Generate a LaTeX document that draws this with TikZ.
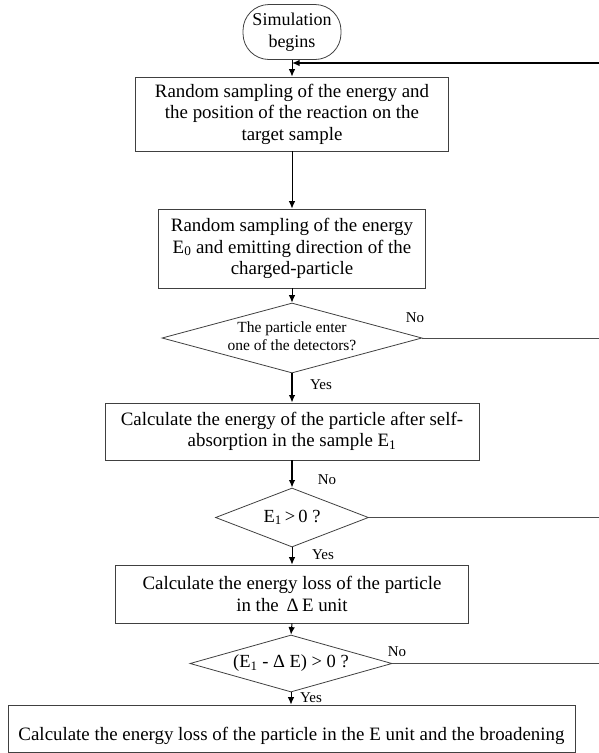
\documentclass[tikz,border=0pt]{standalone}
\usepackage{fontspec}
\setmainfont{Liberation Serif}
\usetikzlibrary{shapes.geometric,arrows.meta}
\newcommand{\sbs}[1]{\textsubscript{#1}}
\begin{document}
\begin{tikzpicture}[x=1pt,y=-1pt,
  box/.style={draw=black!75, line width=0.8pt, fill=white, align=center, inner sep=0pt,
    font=\fontsize{18.9}{21.5}\selectfont},
  dec/.style={draw=black!75, line width=0.8pt, shape=diamond, inner sep=0pt, align=center},
  arr/.style={line width=1pt, -{Latex[length=7.5pt,width=6.5pt]}},
  lbl/.style={font=\fontsize{15}{17}\selectfont, inner sep=0pt},
  loopline/.style={draw=black!70, line width=0.8pt}]
\useasboundingbox (0,0) rectangle (598,753);

% nodes
\node[box, rounded corners=26pt, minimum width=98pt, minimum height=55pt,
  font=\fontsize{18}{22}\selectfont] (start) at (292,32) {Simulation\\begins};
\node[box, minimum width=313pt, minimum height=74pt] (b1) at (292,114)
  {Random sampling of the energy and\\the position of the reaction on the\\target sample};
\node[box, minimum width=267pt, minimum height=79pt] (b2) at (292,248.5)
  {Random sampling of the energy\\E\sbs{0} and emitting direction of the\\charged-particle};
\node[dec, minimum width=260pt, minimum height=70pt] (d1) at (292,338)
  {\makebox[0pt]{\fontsize{15.5}{17.5}\selectfont\begin{tabular}{@{}c@{}}The particle enter\\one of the detectors?\end{tabular}}};
\node[box, minimum width=374pt, minimum height=57pt] (b3) at (292,431.5)
  {Calculate the energy of the particle after self-\\absorption in the sample E\sbs{1}};
\node[dec, minimum width=153pt, minimum height=59pt] (d2) at (292,517.5)
  {\makebox[0pt]{\fontsize{18.5}{21}\selectfont E\sbs{1}\,>\,0 ?}};
\node[box, minimum width=353pt, minimum height=58pt] (b4) at (292,594)
  {Calculate the energy loss of the particle\\in the \,Δ\,E unit};
\node[dec, minimum width=202pt, minimum height=57pt] (d3) at (291,663.5)
  {\makebox[0pt]{\fontsize{18.5}{21}\selectfont (E\sbs{1} - Δ E) > 0 ?}};
\node[box, minimum width=567pt, minimum height=47pt, text height=24pt, text depth=0pt] (b5) at (291.5,728.5)
  {Calculate the energy loss of the particle in the E unit and the broadening};

% labels
\node[lbl] (no1) at (415,318) {No};
\node[lbl] (yes1) at (321,385) {Yes};
\node[lbl] (no2) at (327,480) {No};
\node[lbl] (yes2) at (323,555) {Yes};
\node[lbl] (no3) at (397,652) {No};
\node[lbl] (yes3) at (311,698) {Yes};

% loop coordinates
\coordinate (rtop) at (599.6,63);
\coordinate (rbot) at (599.6,663.5);
\coordinate (join) at (292,63);

% main flow
\draw[arr] (start.south) -- (b1.north);
\draw[arr] (b1.south) -- (b2.north);
\draw[arr] (b2.south) -- (d1.north);
\draw[arr, line width=1.4pt] (d1.south) -- (b3.north);
\draw[arr, line width=1.4pt] (b3.south) -- (d2.north);
\draw[arr] (d2.south) -- (b4.north);
\draw[arr] (b4.south) -- (d3.north);
\draw[arr] (d3.south) -- (d3.south |- b5.north);

% return loop
\draw[loopline] (d1.east) -- (d1.east -| rtop);
\draw[loopline] (d2.east) -- (d2.east -| rtop);
\draw[loopline] (d3.east) -- (rbot);
\draw[loopline] (rbot) -- (rtop);
\draw[arr, line width=1.4pt] (rtop) -- (join);
\end{tikzpicture}
\end{document}
